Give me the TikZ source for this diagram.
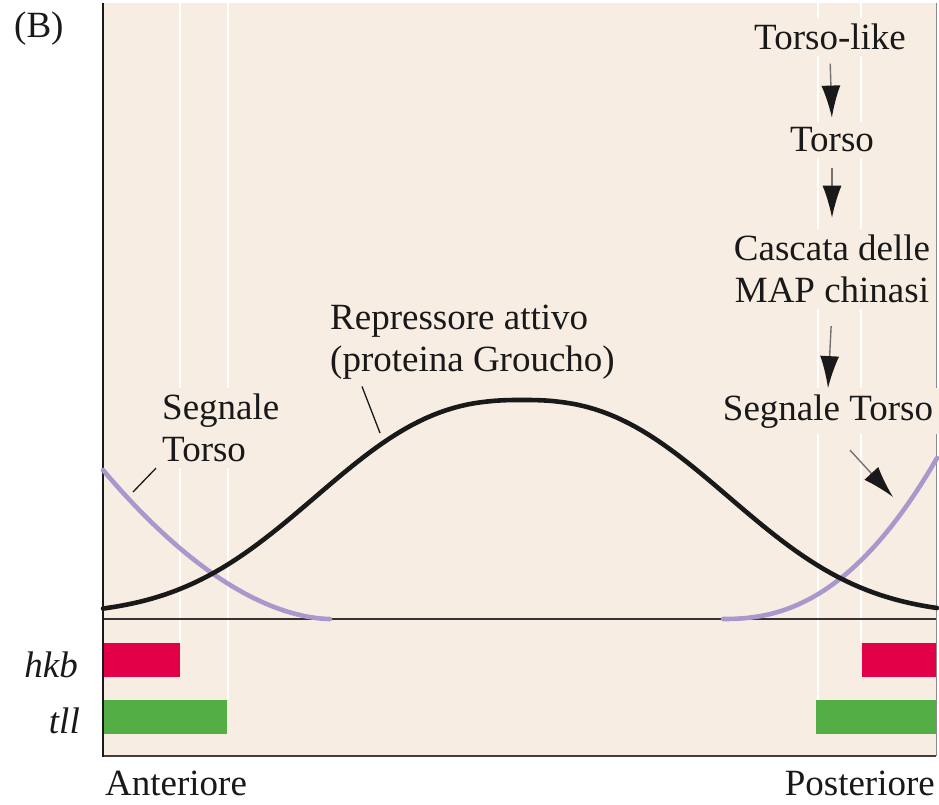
\documentclass[tikz,border=0pt]{standalone}
\usepackage{fontspec}
\setmainfont{Liberation Serif}
\usepackage{tikz}
\usetikzlibrary{arrows.meta,positioning,calc}
\definecolor{bgcol}{HTML}{F7EDE3}
\definecolor{hkbred}{HTML}{E20048}
\definecolor{tllgreen}{HTML}{52AE45}
\definecolor{torsoviolet}{HTML}{AA98CD}

\begin{document}
\begin{tikzpicture}[x=1pt,y=-1pt,>={Latex[length=32pt,width=19pt,color=black!90]},
                    font=\fontsize{37}{42}\selectfont]
  \tikzstyle{txt}=[inner sep=0pt,text=black!90]
  \tikzstyle{boxed}=[fill=bgcol,inner sep=6pt,text=black!90]
  \tikzstyle{profile}=[line width=4.6pt,line cap=round]
  \tikzstyle{stripe}=[white,line width=2pt]
  \tikzstyle{flow}=[->,draw=black!55,line width=1.4pt]
  \tikzstyle{leader}=[draw=black!90,line width=1.3pt]

  \useasboundingbox (0,0) rectangle (939,805);
  \fill[bgcol] (103,3) rectangle (936,756);

  % white guide lines
  \draw[stripe] (180,3) -- (180,643);
  \draw[stripe] (228,3) -- (228,700);
  \draw[stripe] (818,3) -- (818,700);
  \draw[stripe] (861,3) -- (861,643);

  % expression bars
  \fill[hkbred] (103,643) rectangle (180,677);
  \fill[hkbred] (862,643) rectangle (937,677);
  \fill[tllgreen] (103,700) rectangle (227,734);
  \fill[tllgreen] (816,700) rectangle (937,734);

  % frame
  \draw[line width=2pt,black!80] (103,619) -- (936,619);
  \draw[line width=1pt,black!45] (936,3) -- (936,756);
  \draw[line width=2pt,black!75] (103,756) -- (936,756);
  \draw[line width=2.5pt,black!90] (103,3) -- (103,757);

  % labels
  \node[txt,anchor=base west] (B) at (14,38) {(B)};
  \node[txt,anchor=base east] (hkb) at (78,677) {\itshape hkb};
  \node[txt,anchor=base east] (tll) at (80,733) {\itshape tll};
  \node[txt,anchor=base west] (ant) at (105,795) {Anteriore};
  \node[txt,anchor=base east] (post) at (935,795) {Posteriore};

  \node[boxed,anchor=base] (tl) at (830,50) {Torso-like};
  \node[boxed,anchor=base] (to) at (832,152) {Torso};
  \node[boxed,anchor=north,align=center] (map) at (832,228.7) {Cascata delle\\MAP chinasi};
  \node[boxed,anchor=base] (st) at (828,420) {Segnale Torso};
  \node[boxed,anchor=north west,align=left] (segL) at (156,387.7) {Segnale\\Torso};
  \node[boxed,anchor=north west,align=left] (rep) at (324,298.7) {Repressore attivo\\(proteina Groucho)};

  % cascade
  \draw[flow,shorten <=7pt,shorten >=4pt] (tl.south) -- (to.north);
  \draw[flow,shorten <=9pt,shorten >=11pt] (to.south) -- (map.north);
  \draw[flow,shorten <=17pt] (map.south) -- (st.north);
  \coordinate (stTip) at (893,497);
  \draw[flow] ($(st.south)+(22,16)$) -- (stTip);

  % gradients
  \draw[profile,torsoviolet] plot[domain=103:329.9,samples=60]
    (\x,{619-149*pow((330-\x)/227,1.8)});
  \draw[profile,torsoviolet] plot[domain=723.1:937,samples=60]
    (\x,{619-161*pow((\x-723)/214,2.3)});
  \draw[profile,black!90] plot[domain=103:937,samples=120]
    (\x,{615-215*exp(-pow(abs(\x-522)/253.6,2.5))});

  % leaders
  \coordinate (segLend) at (133,492);
  \draw[leader] (segL.south west) -- (segLend);
  \coordinate (repEnd) at (380,433);
  \draw[leader] ($(rep.south west)+(38,1)$) -- (repEnd);
\end{tikzpicture}
\end{document}
